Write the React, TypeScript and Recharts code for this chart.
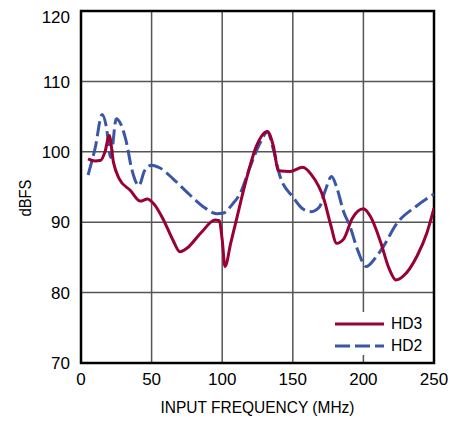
import React from 'react';
import { LineChart, Line, XAxis, YAxis, CartesianGrid, ReferenceArea } from 'recharts';

const hd3Freq = [5, 10, 14, 17, 20, 23, 27, 35, 42, 47, 52, 58, 65, 70, 75, 85, 95, 98, 100, 102, 106, 110, 117, 124, 132, 136, 140, 148, 157, 163, 172, 177, 181, 186, 192, 200, 205, 212, 218, 223, 228, 238, 245, 250];
const hd3Vals = [99.0, 98.7, 98.8, 100.0, 102.3, 98.5, 96.2, 94.5, 93.0, 93.3, 92.5, 90.5, 87.5, 85.8, 86.3, 88.5, 90.3, 90.2, 87.5, 83.7, 87.0, 90.3, 96.0, 100.7, 102.9, 101.0, 97.3, 97.2, 97.8, 96.8, 93.3, 89.5, 87.0, 87.6, 90.5, 91.9, 90.8, 87.3, 83.5, 81.8, 82.3, 85.2, 88.5, 92.0];

const hd2Freq = [5, 10, 15, 18, 21, 25, 28, 32, 36, 41, 45, 50, 56, 65, 77, 88, 96, 101, 107, 113, 120, 127, 132, 136, 141, 150, 157, 163, 169, 173, 177.5, 181, 186, 190.5, 196, 202, 208, 214, 223.6, 237, 250];
const hd2Vals = [96.7, 100.5, 105.3, 103.5, 99.2, 104.7, 104.0, 101.5, 97.5, 95.2, 97.3, 98.1, 97.7, 96.2, 93.9, 92.0, 91.2, 91.3, 92.5, 94.2, 98.0, 101.3, 102.8, 100.5, 96.5, 93.6, 91.9, 91.5, 92.2, 94.5, 96.5, 95.0, 91.5, 89.4, 86.0, 83.7, 84.8, 86.5, 89.8, 92.2, 94.0];

const xTicks = [0, 50, 100, 150, 200, 250];
const yTicks = [70, 80, 90, 100, 110, 120];

const hd3Data = hd3Freq.map((f, i) => ({ f, v: hd3Vals[i] }));
const hd2Data = hd2Freq.map((f, i) => ({ f, v: hd2Vals[i] }));

const FONT = "'Liberation Sans', Arial, sans-serif";
const RED = '#990033';
const BLUE = '#3A56A6';

const XTitle = (props: any) => {
  const vb = props.viewBox || {};
  const cx = vb.x + vb.width / 2;
  return (
    <text x={cx} y={405} textAnchor="middle" fill="#000" fontSize={17} fontFamily={FONT} textLength={194} lengthAdjust="spacingAndGlyphs">
      INPUT FREQUENCY (MHz)
    </text>
  );
};

const YTitle = () => (
  <text x={0} y={0} transform="translate(23 190) rotate(-90)" textAnchor="middle" fill="#000" fontSize={17} fontFamily={FONT} textLength={37} lengthAdjust="spacingAndGlyphs">
    dBFS
  </text>
);

const YTick = (props: any) => {
  const { x, y, payload } = props;
  return (
    <text x={x} y={y} dy="0.36em" textAnchor="end" fill="#000" fontSize={17} fontFamily={FONT}>
      {payload.value}
    </text>
  );
};

export default function App() {
  return (
    <div style={{ position: 'relative', width: 455, height: 415 }}>
      <LineChart width={455} height={415} margin={{ top: 3, right: 29, bottom: 0, left: 0 }}>
        <CartesianGrid stroke="#555" strokeWidth={1.5} />
        <XAxis
          type="number"
          dataKey="f"
          domain={[0, 250]}
          ticks={xTicks}
          allowDataOverflow
          height={60}
          tickLine={false}
          axisLine={false}
          tickSize={0}
          tickMargin={10}
          tick={{ fill: '#000', fontSize: 17, fontFamily: FONT }}
          label={<XTitle />}
        />
        <YAxis
          type="number"
          domain={[70, 120]}
          ticks={yTicks}
          allowDataOverflow
          width={73}
          tickLine={false}
          axisLine={false}
          tickSize={0}
          tickMargin={11}
          tick={<YTick />}
          label={<YTitle />}
        />
        <Line data={hd2Data} dataKey="v" type="monotone" stroke={BLUE} strokeWidth={3} strokeDasharray="15 5" dot={false} isAnimationActive={false} />
        <Line data={hd3Data} dataKey="v" type="monotone" stroke={RED} strokeWidth={3} dot={false} isAnimationActive={false} />
        <ReferenceArea x1={0} x2={250} y1={70} y2={120} fill="none" stroke="#000" strokeWidth={2.5} ifOverflow="visible" />
      </LineChart>
      <div style={{ position: 'absolute', left: 322, top: 304, width: 95, height: 43, background: '#fff', fontFamily: FONT, fontSize: 17, color: '#000', lineHeight: '22px', paddingTop: 1, boxSizing: 'border-box' }}>
        <div style={{ display: 'flex', alignItems: 'center', height: 22 }}>
          <svg width={56} height={6} style={{ marginLeft: 5 }}>
            <line x1={0} y1={3} x2={49} y2={3} stroke={RED} strokeWidth={3} />
          </svg>
          <span style={{ display: 'inline-block', transform: 'scaleX(0.92)', transformOrigin: 'left' }}>HD3</span>
        </div>
        <div style={{ display: 'flex', alignItems: 'center', height: 22 }}>
          <svg width={56} height={6} style={{ marginLeft: 5 }}>
            <line x1={0} y1={3} x2={49} y2={3} stroke={BLUE} strokeWidth={3} strokeDasharray="15 5" />
          </svg>
          <span style={{ display: 'inline-block', transform: 'scaleX(0.92)', transformOrigin: 'left' }}>HD2</span>
        </div>
      </div>
    </div>
  );
}
